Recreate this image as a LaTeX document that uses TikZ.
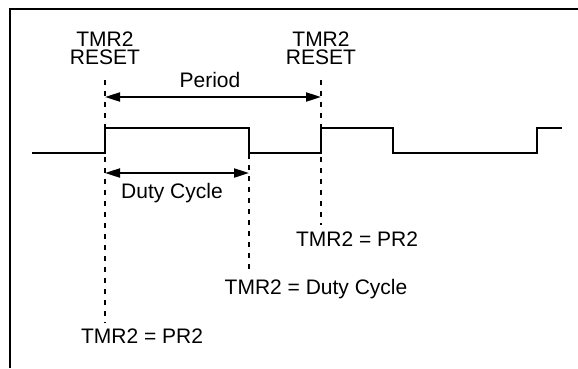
\documentclass[tikz,border=0pt]{standalone}
\usepackage{fontspec}
\setmainfont{Liberation Sans}
\usetikzlibrary{arrows.meta}

\begin{document}
\begin{tikzpicture}[x=1bp,y=-1bp,
 sig/.style={line width=2bp},
 markline/.style={line width=1.5bp,dash pattern=on 5bp off 6bp,shorten >=6bp},
 span/.style={line width=2bp,{Triangle[length=15bp,width=9bp]}-{Triangle[length=15bp,width=9bp]}},
 lbl/.style={inner sep=0pt,font=\fontsize{21bp}{18bp}\selectfont}]
\useasboundingbox (0,0) rectangle (578,368);
\draw[line width=2bp] (10,368) -- (10,9) -- (578,9);
% waveform
\draw[sig] (32,153) -- (105,153) -- (105,128) -- (249,128) -- (249,153) -- (321,153)
 -- (321,128) -- (393,128) -- (393,153) -- (537,153) -- (537,128) -- (562,128);
% labels
\node[lbl,align=center,anchor=base] (rstA) at (105,64) {TMR2\\RESET};
\node[lbl,align=center,anchor=base] (rstB) at (321,64) {TMR2\\RESET};
\node[lbl,anchor=base] (per) at (210,87) {Period};
\node[lbl,anchor=base] (dut) at (172,198) {Duty Cycle};
\node[lbl,anchor=base] (pr2B) at (357,246) {TMR2 = PR2};
\node[lbl,anchor=base] (dcy) at (316,294) {TMR2 = Duty Cycle};
\node[lbl,anchor=base] (pr2A) at (142,343) {TMR2 = PR2};
% markers
\coordinate (tA) at (105,80);
\coordinate (tB) at (321,80);
\coordinate (tD) at (249,154);
\draw[markline] (tA) -- (tA |- pr2A.north);
\draw[markline] (tB) -- (tB |- pr2B.north);
\draw[markline] (tD) -- (tD |- dcy.north);
% spans
\coordinate (perA) at (105,97);
\coordinate (perB) at (321,97);
\coordinate (dutA) at (105,173);
\coordinate (dutB) at (249,173);
\draw[span] (perA) -- (perB);
\draw[span] (dutA) -- (dutB);
\end{tikzpicture}
\end{document}
